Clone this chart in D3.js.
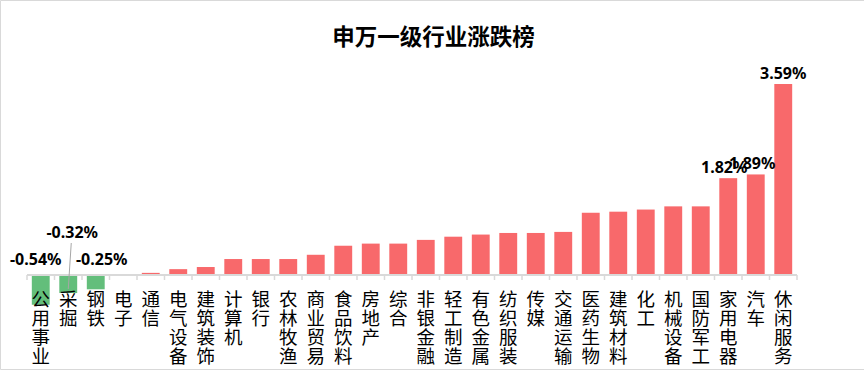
<!DOCTYPE html>
<html>
<head>
<meta charset="utf-8">
<script src="https://cdn.jsdelivr.net/npm/d3@7/dist/d3.min.js"></script>
<style>
  html, body { margin: 0; padding: 0; background: #fff; }
  svg { display: block; }
  .cat { font-family: "Noto Sans CJK SC", sans-serif; font-size: 18.5px; fill: #000; }
  .val { font-family: "Noto Sans", "DejaVu Sans", sans-serif; font-size: 16px; font-weight: bold; fill: #000; }
  .title { font-family: "Noto Sans CJK SC", sans-serif; font-size: 22.5px; font-weight: bold; fill: #000; }
</style>
</head>
<body>
<svg id="chart" width="864" height="370"></svg>
<script>
const TITLE = "申万一级行业涨跌榜";

const INDUSTRIES = [
  "公用事业", "采掘", "钢铁", "电子", "通信", "电气设备", "建筑装饰", "计算机",
  "银行", "农林牧渔", "商业贸易", "食品饮料", "房地产", "综合", "非银金融", "轻工制造",
  "有色金属", "纺织服装", "传媒", "交通运输", "医药生物", "建筑材料", "化工", "机械设备",
  "国防军工", "家用电器", "汽车", "休闲服务"
];

const CHANGES = [
  -0.54, -0.32, -0.25, 0.00, 0.04, 0.11, 0.15, 0.30,
  0.30, 0.30, 0.38, 0.55, 0.59, 0.59, 0.66, 0.72,
  0.76, 0.79, 0.79, 0.81, 1.17, 1.19, 1.23, 1.29,
  1.29, 1.82, 1.89, 3.59
];

// only these bars carry a value label
const LABELLED = ["公用事业", "采掘", "钢铁", "家用电器", "汽车", "休闲服务"];

const width = 864;
const height = 370;
const svg = d3.select("#chart");

const data = INDUSTRIES.map((name, i) => ({ name, value: CHANGES[i] }));

const x = d3.scaleBand()
  .domain(INDUSTRIES)
  .range([27, 797])
  .paddingInner(0.35)
  .paddingOuter(0.175);

const y = d3.scaleLinear()
  .domain([0, 3.59])
  .range([275, 84]);

const step = x.step();
const x0 = x(INDUSTRIES[0]) - step * x.paddingInner() / 2;

// frame
svg.append("path")
  .attr("d", `M${width},0.5H0.5V${height - 0.5}H${width}`)
  .attr("fill", "none")
  .attr("stroke", "#d9d9d9");

svg.append("text")
  .attr("class", "title")
  .attr("x", 433.5)
  .attr("y", 45)
  .attr("text-anchor", "middle")
  .text(TITLE);

// bars
svg.append("g").selectAll("rect")
  .data(data)
  .join("rect")
  .attr("x", d => x(d.name))
  .attr("width", x.bandwidth())
  .attr("y", d => d.value >= 0 ? y(d.value) : y(0) + 1)
  .attr("height", d => Math.abs(y(d.value) - y(0)))
  .attr("fill", d => d.value >= 0 ? "#F8696B" : "#63BE7B");

// category axis
const axis = svg.append("g");
axis.append("line")
  .attr("x1", x0)
  .attr("x2", x0 + step * INDUSTRIES.length)
  .attr("y1", y(0))
  .attr("y2", y(0))
  .attr("stroke", "#d9d9d9")
  .attr("stroke-width", 2);

axis.selectAll(".tick")
  .data(d3.range(INDUSTRIES.length + 1))
  .join("line")
  .attr("class", "tick")
  .attr("x1", i => x0 + i * step)
  .attr("x2", i => x0 + i * step)
  .attr("y1", y(0))
  .attr("y2", y(0) + 5)
  .attr("stroke", "#d9d9d9")
  .attr("stroke-width", 1.5);

// vertical labels, one character per line
const cats = svg.append("g").selectAll("text")
  .data(INDUSTRIES)
  .join("text")
  .attr("class", "cat")
  .attr("text-anchor", "middle");

cats.selectAll("tspan")
  .data(d => Array.from(d).map((ch, i) => ({ ch, i, name: d })))
  .join("tspan")
  .attr("x", d => x(d.name) + x.bandwidth() / 2)
  .attr("y", d => 306 + d.i * 19)
  .text(d => d.ch);

// value labels (some are dragged off their bar, as in the source)
const labelShift = {
  "公用事业": [-5, 0],
  "采掘": [4, -27],
  "钢铁": [6, 0],
  "家用电器": [-4, 0],
  "汽车": [-3.5, 0],
  "休闲服务": [0, 0]
};

const fmt = v => `${v.toFixed(2)}%`;
const labelled = data.filter(d => LABELLED.includes(d.name));

const labelY = d => d.value >= 0 ? y(d.value) - 5 : y(0) - 10;

// leader line for the moved label
const moved = data.find(d => d.name === "采掘");
svg.append("line")
  .attr("x1", x(moved.name) + x.bandwidth() / 2 + 3)
  .attr("y1", labelY(moved) + labelShift[moved.name][1] + 5)
  .attr("x2", x(moved.name) + x.bandwidth() / 2)
  .attr("y2", y(moved.value) - 3)
  .attr("stroke", "#a6a6a6")
  .attr("stroke-width", 1);

svg.append("g").selectAll("text")
  .data(labelled)
  .join("text")
  .attr("class", "val")
  .attr("text-anchor", "middle")
  .attr("x", d => x(d.name) + x.bandwidth() / 2 + labelShift[d.name][0])
  .attr("y", d => labelY(d) + labelShift[d.name][1])
  .text(d => fmt(d.value));
</script>
</body>
</html>
